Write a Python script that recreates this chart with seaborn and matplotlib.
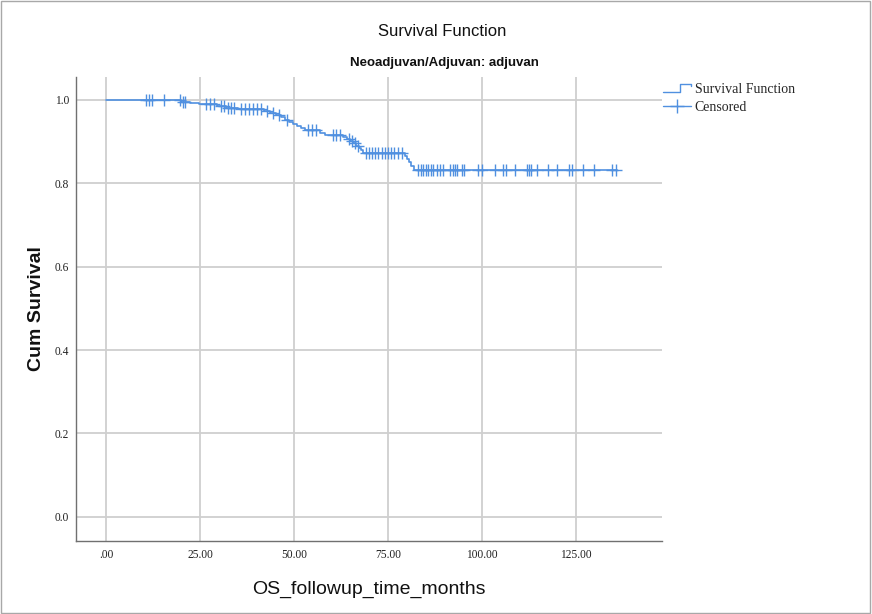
import numpy as np
import pandas as pd
import matplotlib
matplotlib.use("Agg")
import matplotlib.pyplot as plt
import seaborn as sns
from matplotlib.lines import Line2D
from matplotlib.legend_handler import HandlerBase
from matplotlib.patches import Rectangle

# ---- data ----
event_times = [19.9, 22.3, 24.7, 29.5, 31.9, 35.1, 42.0, 43.6, 45.2, 46.5, 47.6, 48.7,
               49.7, 50.8, 51.9, 52.9, 56.9, 58.2, 63.0, 64.1, 64.9, 65.7, 66.5, 67.3,
               67.8, 68.4, 79.5, 80.1, 80.6, 81.1, 81.9]
event_surv = [0.995, 0.993, 0.990, 0.986, 0.981, 0.978, 0.974, 0.969, 0.964, 0.959, 0.953,
              0.948, 0.943, 0.937, 0.932, 0.927, 0.921, 0.916, 0.911, 0.906, 0.901, 0.896,
              0.890, 0.884, 0.879, 0.873, 0.866, 0.858, 0.850, 0.842, 0.833]
censor_times = [10.6, 11.4, 12.2, 15.4, 19.7, 20.4, 21.0, 26.6, 27.7, 28.7, 30.5, 31.4,
                32.4, 33.2, 34.0, 35.9, 37.0, 38.0, 39.1, 40.2, 41.2, 42.8, 44.4, 46.0,
                48.1, 53.7, 54.8, 55.9, 60.4, 61.2, 62.2, 64.6, 65.4, 66.2, 67.0,
                69.1, 69.9, 70.7, 71.5, 72.3, 73.4, 74.2, 75.0, 75.8, 76.6, 77.7, 78.7,
                83.0, 83.8, 84.3, 85.1, 85.6, 86.4, 87.0, 88.0, 88.8, 89.6, 91.5, 92.3,
                92.8, 93.4, 94.7, 95.2, 98.9, 100.0, 103.5, 105.6, 106.4, 108.8, 112.0,
                112.5, 113.0, 114.6, 117.6, 119.9, 123.1, 123.9, 126.9, 129.8, 134.6, 135.6]
end_time = 135.9
x_ticks = [0, 25, 50, 75, 100, 125]
x_tick_labels = [".00", "25.00", "50.00", "75.00", "100.00", "125.00"]
y_ticks = [0.0, 0.2, 0.4, 0.6, 0.8, 1.0]
y_tick_labels = ["0.0", "0.2", "0.4", "0.6", "0.8", "1.0"]

# ---- derived frames ----
step_t = [0.0] + event_times + [end_time]
step_s = [1.0] + event_surv + [event_surv[-1]]
curve = pd.DataFrame({"t": step_t, "s": step_s})
levels = np.array([1.0] + event_surv)
idx = np.searchsorted(np.array(event_times), np.array(censor_times), side="right")
cens = pd.DataFrame({"t": censor_times, "s": levels[idx]})

sns.set_theme(style="white")
plt.rcParams["font.family"] = ["Liberation Sans", "DejaVu Sans"]

blue = "#5090e0"
grid_c = "#cfcfcf"

fig = plt.figure(figsize=(8.72, 6.14), dpi=100)
ax = fig.add_axes([76 / 872, 1 - 541 / 614, (662 - 76) / 872, (541 - 77) / 614])

for xt in x_ticks:
    ax.axvline(xt, color=grid_c, lw=1.3, zorder=0)
for yt in y_ticks:
    ax.axhline(yt, color=grid_c, lw=1.3, zorder=0)

sns.lineplot(data=curve, x="t", y="s", ax=ax, drawstyle="steps-post", estimator=None,
             sort=False, color=blue, lw=1.2, zorder=3)
sns.scatterplot(data=cens, x="t", y="s", ax=ax, marker="+", s=70, color=blue,
                linewidth=1.0, zorder=4)

ax.set_xlim(-8, 147.9)
ax.set_ylim(-0.058, 1.055)
ax.set_xticks(x_ticks)
ax.set_xticklabels(x_tick_labels)
ax.set_yticks(y_ticks)
ax.set_yticklabels(y_tick_labels)
for lab in ax.get_xticklabels() + ax.get_yticklabels():
    lab.set_fontfamily("Liberation Serif")
    lab.set_fontsize(8.3)
    lab.set_color("#222222")
ax.tick_params(axis="both", length=0)
ax.tick_params(axis="x", pad=6)
ax.tick_params(axis="y", pad=5)

for side in ["top", "right"]:
    ax.spines[side].set_visible(False)
for side in ["left", "bottom"]:
    ax.spines[side].set_color("#707070")
    ax.spines[side].set_linewidth(1.0)

ax.set_ylabel("Cum Survival", fontsize=14, fontweight="bold", color="#111111")
ax.set_xlabel("OS_followup_time_months", fontsize=14, color="#111111")
ax.yaxis.set_label_coords(-0.053, 0.5)
ax.xaxis.set_label_coords(0.5, -0.086)

fig.text(442 / 872, 1 - 31 / 614, "Survival Function", ha="center", va="center",
         fontsize=12, color="#111111")
fig.text(444 / 872, 1 - 63 / 614, "Neoadjuvan/Adjuvan: adjuvan", ha="center",
         va="center", fontsize=9.5, fontweight="bold", color="#111111")


class StepHandler(HandlerBase):
    def create_artists(self, legend, orig_handle, xdescent, ydescent, width, height,
                       fontsize, trans):
        x0, y0 = -xdescent, -ydescent
        xs = [x0, x0 + 0.62 * width, x0 + 0.62 * width, x0 + width, x0 + width]
        ys = [y0 + 0.1 * height, y0 + 0.1 * height, y0 + 0.95 * height,
              y0 + 0.95 * height, y0 + 0.65 * height]
        ln = Line2D(xs, ys, color=blue, lw=1.0, transform=trans)
        return [ln]


h1 = Line2D([], [], color=blue)
h2 = Line2D([], [], color=blue, marker="+", markersize=10, lw=1.0)
leg = fig.legend([h1, h2], ["Survival Function", "Censored"],
                 handler_map={h1: StepHandler()},
                 loc="upper left", bbox_to_anchor=(660 / 872, 1 - 80 / 614),
                 frameon=False, prop={"family": "Liberation Serif", "size": 10},
                 handlelength=2.0, handletextpad=0.3, labelspacing=0.35,
                 borderaxespad=0, borderpad=0.2)

fig.patches.append(Rectangle((0.001, 0.001), 0.997, 0.997, transform=fig.transFigure,
                             fill=False, ec="#a8a8a8", lw=1.0))

fig.savefig("out.png", dpi=100)
